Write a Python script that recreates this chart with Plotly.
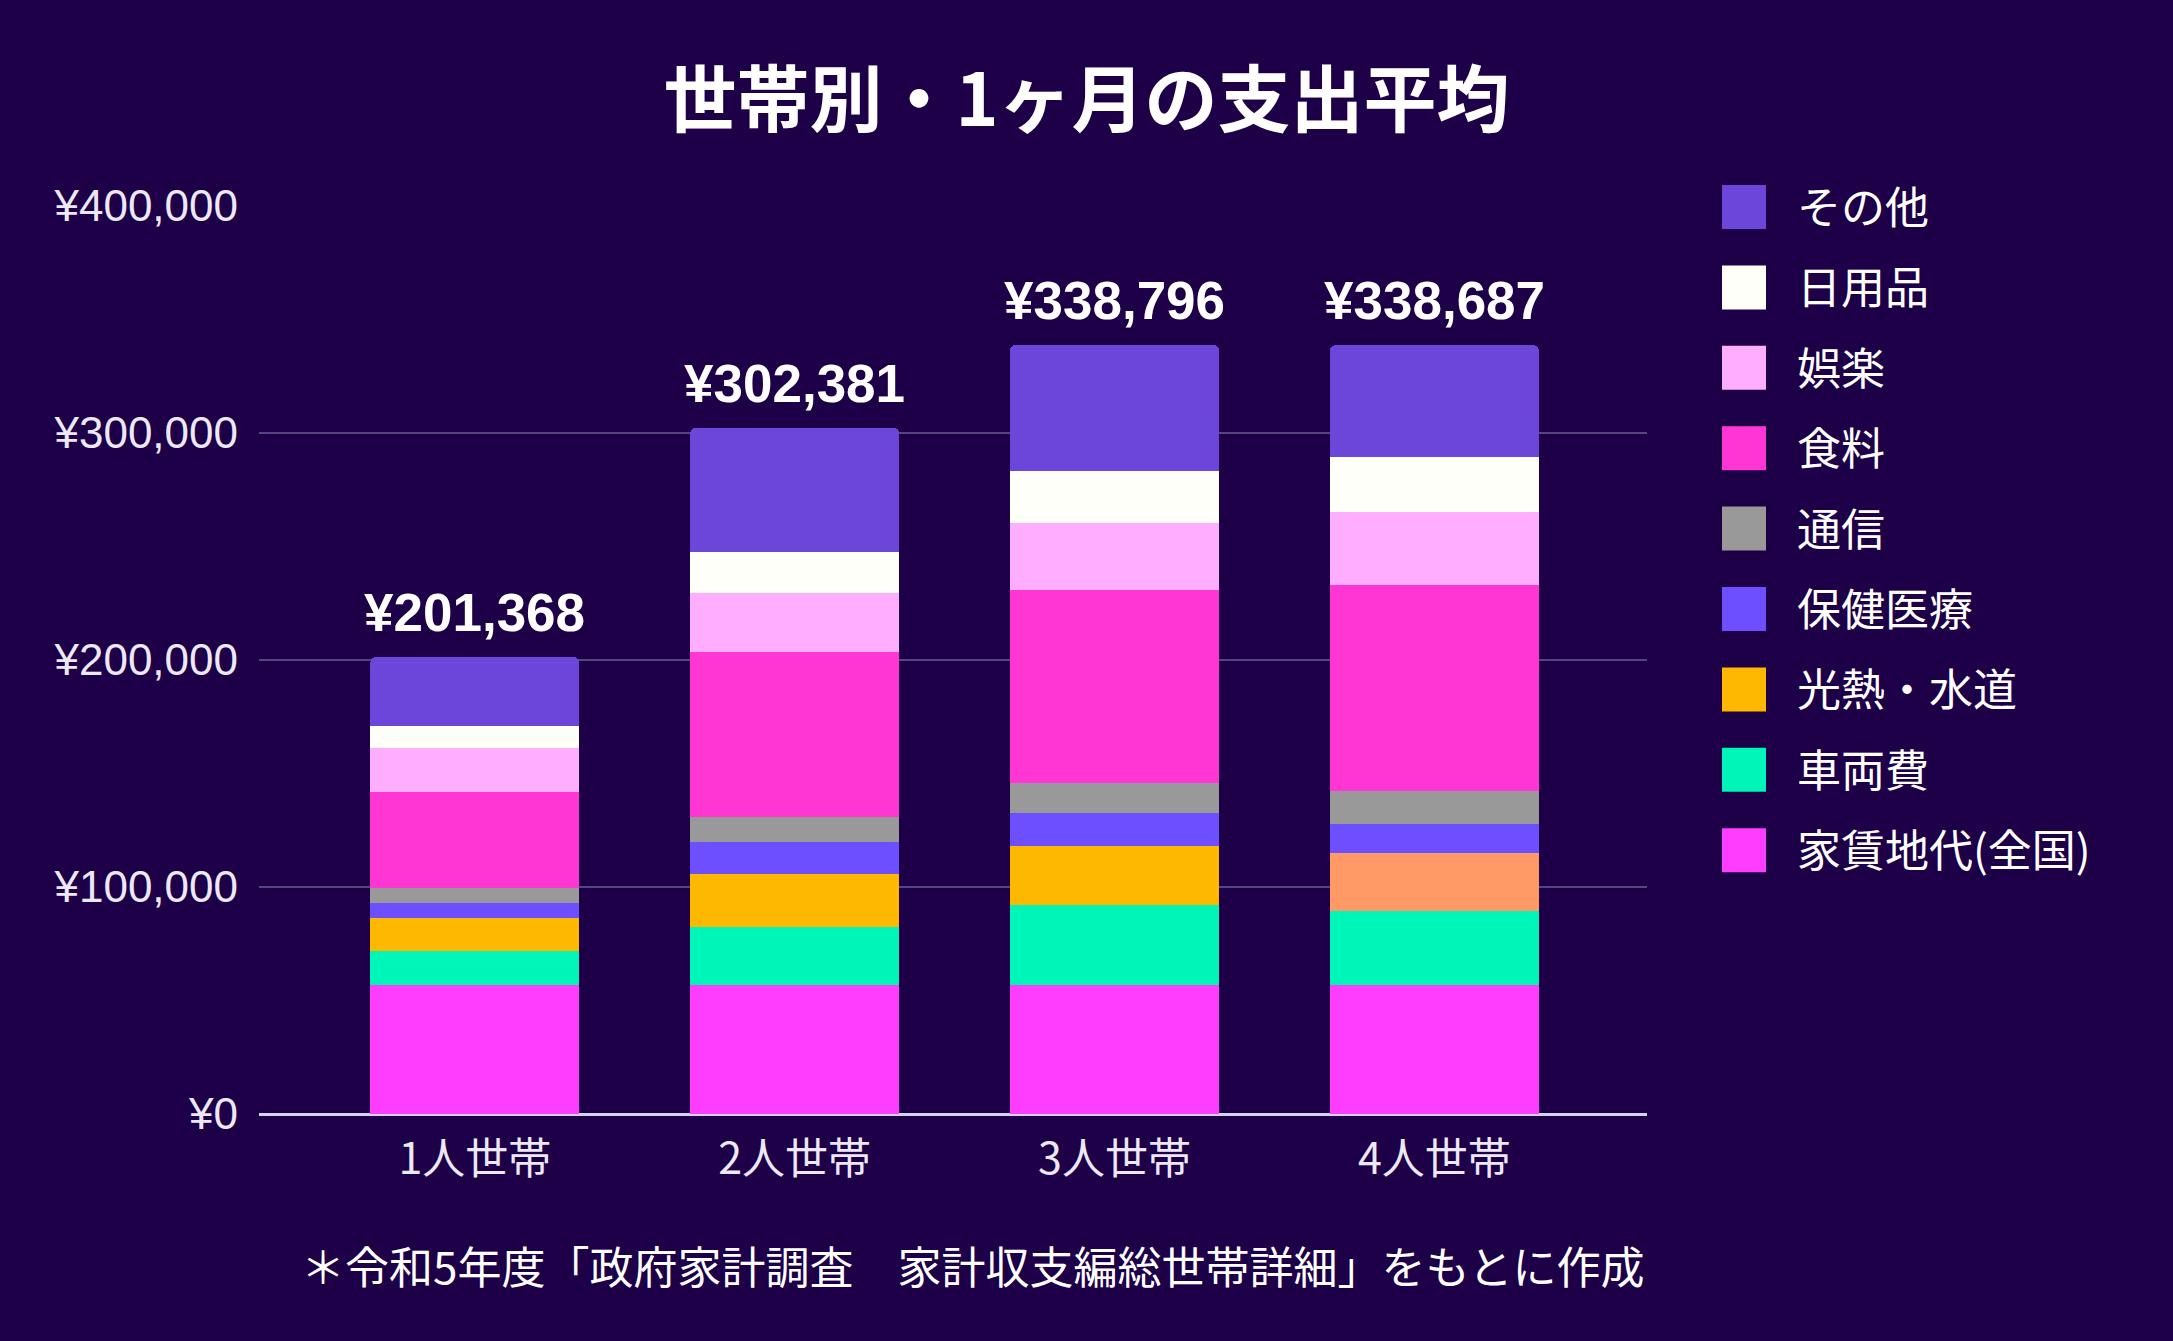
import plotly.graph_objects as go

# ---------------- data ----------------
categories = ["1人世帯", "2人世帯", "3人世帯", "4人世帯"]

rent      = [56800, 56800, 56800, 56800]   # 家賃地代(全国)
car       = [15000, 25800, 35400, 32600]   # 車両費
utilities = [14500, 23000, 25900, 25400]   # 光熱・水道
health    = [6800, 14100, 14500, 13100]    # 保健医療
telecom   = [6400, 11200, 13300, 14500]    # 通信
food      = [42400, 72600, 85100, 90500]   # 食料
leisure   = [19400, 25900, 29200, 32400]   # 娯楽
daily     = [9700, 18000, 22900, 24100]    # 日用品
other     = [30368, 54981, 55696, 49287]   # その他

series_names = ["家賃地代(全国)", "車両費", "光熱・水道", "保健医療", "通信",
                "食料", "娯楽", "日用品", "その他"]
series_values = [rent, car, utilities, health, telecom, food, leisure, daily, other]
series_colors = ["#FF3DFF", "#00F5B8", "#FFB800", "#6E4FFF", "#999999",
                 "#FF36D3", "#FFADFF", "#FFFFFA", "#6B46D8"]
util_colors = ["#FFB800", "#FFB800", "#FFB800", "#FF9966"]

y_ticks = [0, 100000, 200000, 300000, 400000]
y_tick_labels = ["¥0", "¥100,000", "¥200,000", "¥300,000", "¥400,000"]

title_text = "世帯別・1ヶ月の支出平均"
footnote = "＊令和5年度「政府家計調査　家計収支編総世帯詳細」をもとに作成"

# ---------------- layout geometry ----------------
W, H = 2173, 1341
PL, PR, PT, PB = 259, 1647, 206, 1114
BG = "#1D0047"

def px_x(x):
    return (x - PL) / (PR - PL)

def px_y(y):
    return (PB - y) / (PB - PT)

fig = go.Figure()

for name, vals, col in zip(series_names, series_values, series_colors):
    color = util_colors if name == "光熱・水道" else col
    fig.add_trace(go.Bar(
        x=categories, y=vals, name=name,
        marker=dict(color=color, line=dict(width=0)),
        showlegend=False,
    ))

totals = [sum(v[i] for v in series_values) for i in range(len(categories))]
annotations = []
for c, t in zip(categories, totals):
    annotations.append(dict(
        x=c, y=t, xref="x", yref="y", text=f"<b>¥{t:,}</b>", showarrow=False,
        yanchor="bottom", xanchor="center", yshift=13,
        font=dict(family="Liberation Sans, Arial, sans-serif", size=53, color="#FFFFFF"),
    ))

# custom legend (top to bottom = reverse stacking order)
shapes = []
legend_names = list(reversed(series_names))
legend_colors = list(reversed(series_colors))
for i, (n, c) in enumerate(zip(legend_names, legend_colors)):
    cy = 207 + 80.4 * i
    shapes.append(dict(
        type="rect", xref="paper", yref="paper",
        xsizemode="pixel", ysizemode="pixel",
        xanchor=px_x(1722), yanchor=px_y(cy),
        x0=0, x1=44, y0=-22, y1=22,
        fillcolor=c, line=dict(width=0), layer="above",
    ))
    annotations.append(dict(
        x=px_x(1795), y=px_y(cy - 2), xref="paper", yref="paper",
        text=n, showarrow=False, xanchor="left", yanchor="middle",
        font=dict(family="Noto Sans CJK JP", size=44, color="#FFFFFF"),
    ))

annotations.append(dict(
    x=1, y=px_y(1265), xref="paper", yref="paper", text=footnote,
    showarrow=False, xanchor="right", yanchor="middle",
    font=dict(family="Noto Sans CJK JP", size=44, color="#FFFFFF"),
))

fig.update_layout(
    width=W, height=H,
    paper_bgcolor=BG, plot_bgcolor=BG,
    margin=dict(l=PL, r=W - PR, t=PT, b=H - PB, pad=0),
    barmode="stack", bargap=0.346, barcornerradius=6,
    title=dict(text=f"<b>{title_text}</b>", x=0.5, xanchor="center",
               y=1 - 100 / H, yanchor="middle", yref="container",
               font=dict(family="Noto Sans CJK JP", size=73, color="#FFFFFF")),
    xaxis=dict(
        range=[-0.675, 3.665], showgrid=False, zeroline=False, showline=False,
        ticks="", ticklabelstandoff=16,
        tickfont=dict(family="Noto Sans CJK JP", size=43, color="#ECE8F6"),
    ),
    yaxis=dict(
        range=[0, 400000], tickvals=y_ticks, ticktext=y_tick_labels,
        showgrid=True, gridcolor="#54467E", gridwidth=2,
        zeroline=True, zerolinecolor="#D8D0F0", zerolinewidth=3,
        showline=False, ticks="", ticklabelstandoff=20,
        tickfont=dict(family="Liberation Sans, Arial, sans-serif", size=44, color="#ECE8F6"),
    ),
    annotations=annotations,
    shapes=shapes,
    showlegend=False,
)

fig.write_html("out.html", config={"displayModeBar": False},
               post_script="document.body.style.margin='0';document.body.style.overflow='hidden';")
